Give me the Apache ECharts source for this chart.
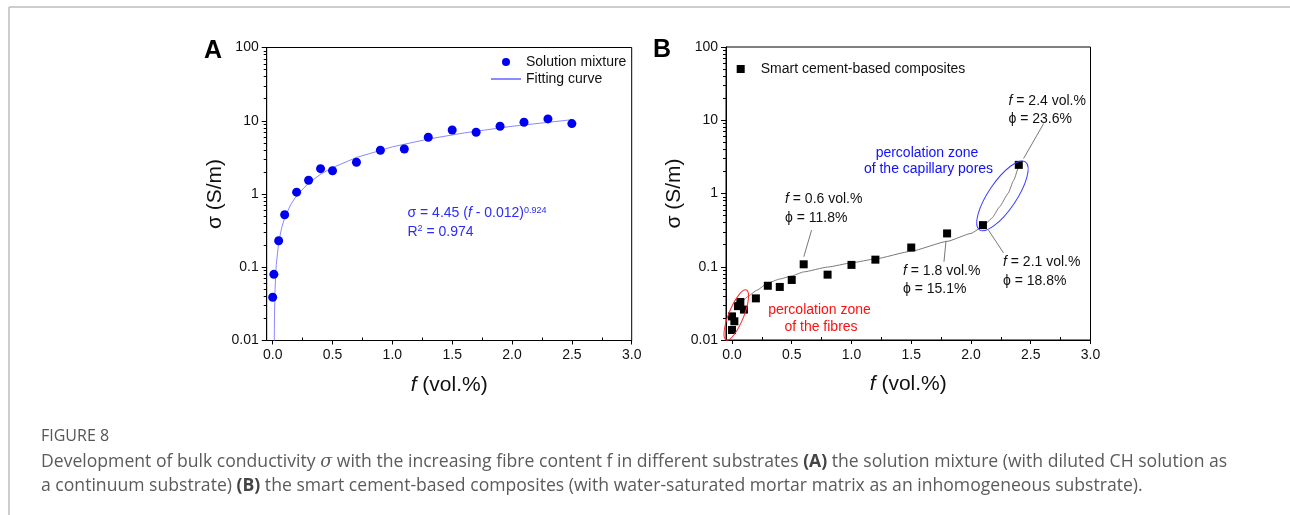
<!DOCTYPE html>
<html>
<head>
<meta charset="utf-8">
<script src="https://cdn.jsdelivr.net/npm/echarts@6/dist/echarts.min.js"></script>
<style>
html,body{margin:0;padding:0;background:#fff;}
#main{width:1290px;height:515px;}
</style>
</head>
<body>
<div id="main"></div>
<script>
// ---------- data ----------
// Panel A: solution mixture
const aF = [0, 0.01, 0.05, 0.1, 0.2, 0.3, 0.4, 0.5, 0.7, 0.9, 1.1, 1.3, 1.5, 1.7, 1.9, 2.1, 2.3, 2.5];
const aSigma = [0.039, 0.08, 0.23, 0.52, 1.06, 1.54, 2.22, 2.08, 2.71, 3.95, 4.12, 5.95, 7.49, 6.96, 8.41, 9.54, 10.6, 9.15];
// Panel A: fitting curve
const aFitF = [0.0133, 0.014, 0.015, 0.02, 0.03, 0.05, 0.075, 0.1, 0.15, 0.2, 0.3, 0.4, 0.5, 0.7, 1.0, 1.3, 1.6, 2.0, 2.5];
const aFitSigma = [0.01, 0.0142, 0.021, 0.051, 0.109, 0.217, 0.346, 0.471, 0.714, 0.95, 1.41, 1.86, 2.29, 3.15, 4.40, 5.62, 6.82, 8.40, 10.33];
// Panel B: smart cement-based composites
const bF = [0, 0, 0.02, 0.05, 0.07, 0.1, 0.2, 0.3, 0.4, 0.5, 0.6, 0.8, 1.0, 1.2, 1.5, 1.8, 2.1, 2.4];
const bSigma = [0.0137, 0.021, 0.018, 0.029, 0.033, 0.026, 0.037, 0.055, 0.053, 0.066, 0.108, 0.078, 0.106, 0.125, 0.183, 0.285, 0.37, 2.46];
// Panel B: guide curve
const bFitF = [0.07, 0.1, 0.13, 0.21, 0.3, 0.4, 0.5, 0.6, 0.8, 1.0, 1.2, 1.5, 1.8, 2.0, 2.1, 2.175, 2.24, 2.31, 2.356, 2.4];
const bFitSigma = [0.031, 0.035, 0.039, 0.048, 0.06, 0.068, 0.075, 0.085, 0.099, 0.113, 0.128, 0.163, 0.222, 0.285, 0.355, 0.46, 0.66, 1.0, 1.5, 2.45];
// Panel B annotation arrows (data coords: start -> end)
const arrowStart = [[0.666, 0.316], [1.774, 0.117], [2.272, 0.155], [2.608, 9.0]];
const arrowEnd = [[0.601, 0.137], [1.791, 0.226], [2.146, 0.316], [2.44, 3.0]];
// Panel B ellipses (data-space centres)
const ellipseCentres = [[0.036, 0.0219], [2.263, 0.929]];
// Axis ticks
const xTicks = [0, 0.5, 1, 1.5, 2, 2.5, 3];
const xMinorTicks = [0.25, 0.75, 1.25, 1.75, 2.25, 2.75];
const yMinorTicks = [0.02, 0.03, 0.04, 0.05, 0.06, 0.07, 0.08, 0.09,
                     0.2, 0.3, 0.4, 0.5, 0.6, 0.7, 0.8, 0.9,
                     2, 3, 4, 5, 6, 7, 8, 9,
                     20, 30, 40, 50, 60, 70, 80, 90];

// ---------- chart ----------
const FONT = 'Liberation Sans, Arial, sans-serif';
const zip = (xs, ys) => xs.map((x, i) => [x, ys[i]]);

function makeX(gi) {
  return {
    gridIndex: gi, type: 'value', min: -0.05, max: 3, position: 'bottom',
    axisLine: { show: true, onZero: false, lineStyle: { color: '#000', width: 1 } },
    axisTick: { show: true, length: 4, customValues: xTicks, lineStyle: { color: '#000' } },
    axisLabel: { customValues: xTicks, formatter: v => Number(v).toFixed(1), fontSize: 14, color: '#111', margin: 8, fontFamily: FONT },
    splitLine: { show: false },
    name: '{i|f} (vol.%)', nameLocation: 'middle', nameGap: 34,
    nameTextStyle: { fontSize: 21, color: '#111', fontFamily: FONT, rich: { i: { fontSize: 21, fontStyle: 'italic', color: '#111', fontFamily: FONT } } }
  };
}
function makeXMinor(gi) {
  return {
    gridIndex: gi, type: 'value', min: -0.05, max: 3, position: 'bottom',
    axisLine: { show: false, onZero: false },
    axisTick: { show: true, inside: true, length: 3, customValues: xMinorTicks, lineStyle: { color: '#000' } },
    axisLabel: { show: false },
    splitLine: { show: false }
  };
}
function makeY(gi) {
  return {
    gridIndex: gi, type: 'log', logBase: 10, min: 0.01, max: 100, position: 'left',
    axisLine: { show: true, onZero: false, lineStyle: { color: '#000', width: 1 } },
    axisTick: { show: true, length: 5, lineStyle: { color: '#000' } },
    axisLabel: { formatter: v => String(+Number(v).toPrecision(3)), fontSize: 14, color: '#111', margin: 8, fontFamily: FONT },
    splitLine: { show: false },
    name: 'σ (S/m)', nameLocation: 'middle', nameGap: 41, nameRotate: 90,
    nameTextStyle: { fontSize: 21, color: '#111', fontFamily: FONT }
  };
}
function makeYMinor(gi) {
  return {
    gridIndex: gi, type: 'log', logBase: 10, min: 0.01, max: 100, position: 'left',
    axisLine: { show: false, onZero: false },
    axisTick: { show: true, length: 3, customValues: yMinorTicks, lineStyle: { color: '#000' } },
    axisLabel: { show: false },
    splitLine: { show: false }
  };
}

const chart = echarts.init(document.getElementById('main'), null, { renderer: 'canvas' });

const option = {
  animation: false,
  backgroundColor: '#fff',
  textStyle: { fontFamily: FONT },
  grid: [
    { left: 266.7, top: 47.5, width: 365, height: 293, show: true, borderColor: '#000', borderWidth: 1 },
    { left: 726, top: 47, width: 364.5, height: 293, show: true, borderColor: '#000', borderWidth: 1 }
  ],
  xAxis: [makeX(0), makeX(1), makeXMinor(0), makeXMinor(1)],
  yAxis: [makeY(0), makeY(1), makeYMinor(0), makeYMinor(1)],
  legend: [
    {
      data: [{ name: 'Solution mixture', icon: 'circle' }, { name: 'Fitting curve', itemStyle: { opacity: 0 } }],
      orient: 'vertical', left: 490, top: 55, padding: 0,
      itemWidth: 30, itemHeight: 8, itemGap: 3,
      textStyle: { fontSize: 14, color: '#111', fontFamily: FONT }
    },
    {
      data: [{ name: 'Smart cement-based composites', icon: 'path://M0,0L10,0L10,10L0,10Z' }],
      orient: 'vertical', left: 736.7, top: 62, padding: 0, symbolKeepAspect: true,
      itemWidth: 30, itemHeight: 8, itemGap: 3,
      textStyle: { fontSize: 14, color: '#111', fontFamily: FONT }
    }
  ],
  series: [
    {
      name: 'Fitting curve', type: 'line', xAxisIndex: 0, yAxisIndex: 0,
      data: zip(aFitF, aFitSigma), symbol: 'none', smooth: false,
      lineStyle: { color: '#8a8aff', width: 1 }, itemStyle: { color: '#8a8aff' }, z: 2
    },
    {
      name: 'Solution mixture', type: 'scatter', xAxisIndex: 0, yAxisIndex: 0,
      data: zip(aF, aSigma), symbol: 'circle', symbolSize: 9,
      itemStyle: { color: '#0000f0', opacity: 1 }, z: 3
    },
    {
      name: 'B curve', type: 'line', xAxisIndex: 1, yAxisIndex: 1,
      data: zip(bFitF, bFitSigma), symbol: 'none', smooth: 0.15, smoothMonotone: 'x',
      lineStyle: { color: '#7a7a7a', width: 1 }, z: 2
    },
    {
      name: 'Smart cement-based composites', type: 'scatter', xAxisIndex: 1, yAxisIndex: 1,
      data: zip(bF, bSigma), symbol: 'rect', symbolSize: 8,
      itemStyle: { color: '#000', opacity: 1 }, z: 3,
      markLine: {
        silent: true, symbol: ['none', 'arrow'], symbolSize: [0, 7],
        lineStyle: { color: '#777', width: 1, type: 'solid' },
        itemStyle: { color: '#222' },
        label: { show: false },
        emphasis: { disabled: true },
        data: arrowStart.map((s, i) => [{ coord: s }, { coord: arrowEnd[i] }])
      }
    }
  ]
};
chart.setOption(option);

// ---------- annotations ----------
const rt = (fill, size) => ({
  n: { fontSize: size, fill: fill, fontFamily: FONT },
  i: { fontSize: size, fill: fill, fontFamily: FONT, fontStyle: 'italic' },
  s: { fontSize: 9, fill: fill, fontFamily: FONT, verticalAlign: 'top', padding: [0, 0, 6, 0] }
});
function txt(x, y, text, fill, size, align) {
  return {
    type: 'text', x: x, y: y, silent: true, z: 50,
    style: { text: text, fill: fill, fontSize: size, fontFamily: FONT, align: align || 'left', verticalAlign: 'middle', rich: rt(fill, size) }
  };
}
const CAPF = 17.6;
const capRich = {
  n: { fontSize: CAPF, fill: '#5b5b5b', fontFamily: 'Open Sans' },
  it: { fontSize: CAPF, fill: '#5b5b5b', fontFamily: 'DejaVu Serif', fontStyle: 'italic' },
  b: { fontSize: CAPF, fill: '#444', fontFamily: 'Open Sans', fontWeight: 'bold' }
};

const ec = ellipseCentres.map(c => chart.convertToPixel({ xAxisIndex: 1, yAxisIndex: 1 }, c));

const graphics = [
  { type: 'line', silent: true, shape: { x1: 9, y1: 7, x2: 1290, y2: 7 }, style: { stroke: '#bdbdbd', lineWidth: 1.5 } },
  { type: 'line', silent: true, shape: { x1: 9, y1: 7, x2: 9, y2: 515 }, style: { stroke: '#bdbdbd', lineWidth: 1.5 } },
  // panel labels
  { type: 'text', x: 213, y: 51, style: { text: 'A', fontSize: 25, fontWeight: 'bold', fontFamily: FONT, fill: '#000', align: 'center', verticalAlign: 'middle' } },
  { type: 'text', x: 662, y: 50, style: { text: 'B', fontSize: 25, fontWeight: 'bold', fontFamily: FONT, fill: '#000', align: 'center', verticalAlign: 'middle' } },
  // equation in A
  txt(407.5, 213.5, '{n|σ = 4.45 (}{i|f}{n| - 0.012)}{s|0.924}', '#2b2bff', 14),
  txt(407.5, 232, '{n|R}{s|2}{n| = 0.974}', '#2b2bff', 14),
  // annotations in B
  txt(785, 199, '{i|f}{n| = 0.6 vol.%}', '#111', 14),
  txt(785, 218, '{n|ϕ = 11.8%}', '#111', 14),
  txt(903, 271, '{i|f}{n| = 1.8 vol.%}', '#111', 14),
  txt(903, 289.5, '{n|ϕ = 15.1%}', '#111', 14),
  txt(1003, 262.5, '{i|f}{n| = 2.1 vol.%}', '#111', 14),
  txt(1003, 281, '{n|ϕ = 18.8%}', '#111', 14),
  txt(1008.5, 101, '{i|f}{n| = 2.4 vol.%}', '#111', 14),
  txt(1008.5, 119.5, '{n|ϕ = 23.6%}', '#111', 14),
  txt(927, 153, '{n|percolation zone}', '#1010ff', 14, 'center'),
  txt(928.5, 169.5, '{n|of the capillary pores}', '#1010ff', 14, 'center'),
  txt(819.5, 310, '{n|percolation zone}', '#ff1010', 14, 'center'),
  txt(821, 327, '{n|of the fibres}', '#ff1010', 14, 'center'),
  // ellipses
  { type: 'ellipse', silent: true, z: 40, x: ec[0][0], y: ec[0][1], rotation: 68 * Math.PI / 180,
    shape: { cx: 0, cy: 0, rx: 27, ry: 7.5 }, style: { fill: 'none', stroke: '#ff2a2a', lineWidth: 1 } },
  { type: 'ellipse', silent: true, z: 40, x: ec[1][0], y: ec[1][1], rotation: 56 * Math.PI / 180,
    shape: { cx: 0, cy: 0, rx: 41, ry: 14 }, style: { fill: 'none', stroke: '#3d3dff', lineWidth: 1 } },
  // caption
  { type: 'text', x: 41, y: 436, style: { text: 'FIGURE 8', fontSize: 16, fontFamily: 'Open Sans', fill: '#555', verticalAlign: 'middle' } },
  { type: 'text', x: 41, y: 462, style: { text: '{n|Development of bulk conductivity }{it|σ}{n| with the increasing fibre content f in different substrates }{b|(A)}{n| the solution mixture (with diluted CH solution as}', verticalAlign: 'middle', rich: capRich } },
  { type: 'text', x: 41, y: 486, style: { text: '{n|a continuum substrate) }{b|(B)}{n| the smart cement-based composites (with water-saturated mortar matrix as an inhomogeneous substrate).}', verticalAlign: 'middle', rich: capRich } }
];
chart.setOption({ graphic: graphics });
</script>
</body>
</html>
